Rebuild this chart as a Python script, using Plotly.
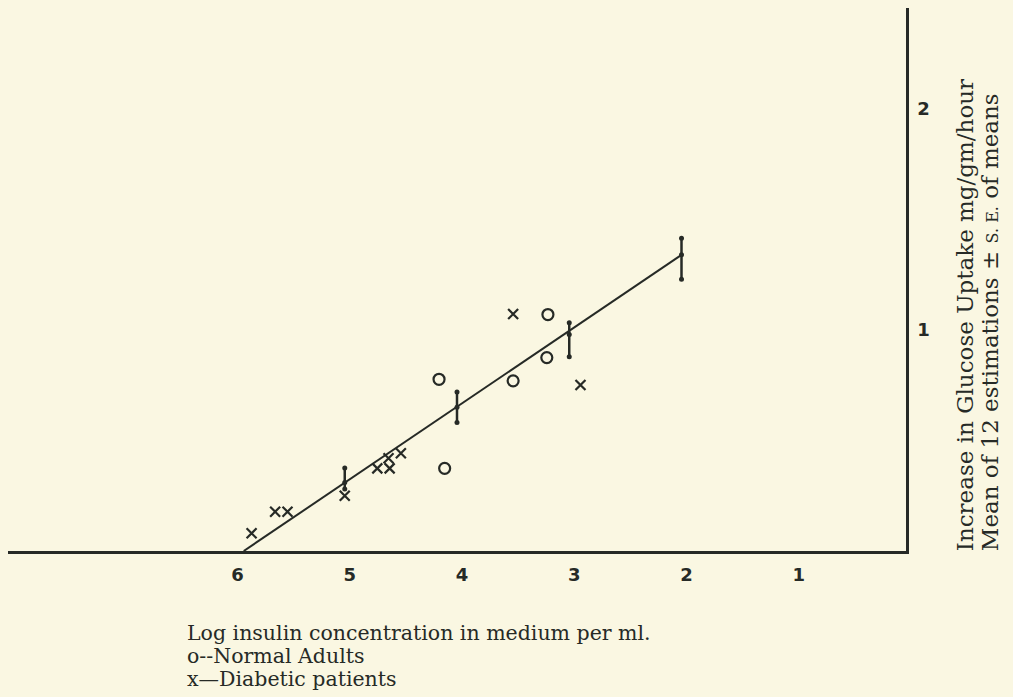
import plotly.graph_objects as go

# ---- data ----
normal_x = [3.19, 3.20, 3.50, 4.16, 4.11]
normal_y = [1.07, 0.875, 0.77, 0.777, 0.374]

diabetic_x = [3.50, 2.90, 5.83, 5.62, 5.51, 5.00, 4.71, 4.61, 4.60, 4.50]
diabetic_y = [1.072, 0.751, 0.08, 0.178, 0.178, 0.25, 0.374, 0.42, 0.374, 0.442]

bar_x = [5, 4, 3, 2]
bar_mean = [0.31, 0.65, 0.98, 1.34]
bar_hi = [0.375, 0.72, 1.033, 1.415]
bar_lo = [0.28, 0.582, 0.879, 1.23]

line_x = [5.9, 2.0]
line_y = [0.0, 1.34]

x_ticks = [6, 5, 4, 3, 2, 1]
y_ticks = [1, 2]

y_title = ["Increase in Glucose Uptake mg/gm/hour",
           "Mean of 12 estimations \u00b1 <span style='font-size:16px'>S. E.</span> of means"]
x_title = ["Log insulin concentration in medium per ml.",
           "o--Normal Adults",
           "x\u2014Diabetic patients"]

INK = "#262a26"
BG = "#faf7e2"

fig = go.Figure()

# regression line
fig.add_trace(go.Scatter(x=line_x, y=line_y, mode="lines",
                         line=dict(color=INK, width=2), showlegend=False))

# error bars (mean +/- s.e.)
fig.add_trace(go.Scatter(
    x=bar_x, y=bar_mean, mode="markers",
    marker=dict(color=INK, size=5),
    error_y=dict(type="data", symmetric=False,
                 array=[h - m for h, m in zip(bar_hi, bar_mean)],
                 arrayminus=[m - l for m, l in zip(bar_mean, bar_lo)],
                 color=INK, thickness=2.5, width=0),
    showlegend=False))
fig.add_trace(go.Scatter(x=bar_x + bar_x, y=bar_hi + bar_lo, mode="markers",
                         marker=dict(color=INK, size=5), showlegend=False))

# normal adults
fig.add_trace(go.Scatter(x=normal_x, y=normal_y, mode="markers",
                         marker=dict(symbol="circle-open", size=11, color=INK,
                                     line=dict(width=2.2, color=INK)),
                         showlegend=False))
# diabetic patients
fig.add_trace(go.Scatter(x=diabetic_x, y=diabetic_y, mode="markers",
                         marker=dict(symbol="x-thin-open", size=10, color=INK,
                                     line=dict(width=2.2, color=INK)),
                         showlegend=False))

fig.update_layout(
    width=1013, height=697,
    margin=dict(l=8, r=107, t=8, b=146),
    paper_bgcolor=BG, plot_bgcolor=BG,
    font=dict(family="DejaVu Serif", color=INK),
    xaxis=dict(range=[8.0, 0.0], showgrid=False, zeroline=False,
               showline=True, linecolor=INK, linewidth=3,
               tickvals=x_ticks, ticktext=[str(t) for t in x_ticks],
               ticks="", ticklabelstandoff=5, ticklabelshift=-5,
               tickfont=dict(family="DejaVu Sans", size=18, color=INK,
                             weight="bold")),
    yaxis=dict(range=[0, 2.457], side="right", showgrid=False, zeroline=False,
               showline=True, linecolor=INK, linewidth=2.5,
               tickvals=y_ticks, ticktext=[str(t) for t in y_ticks],
               ticks="", ticklabelstandoff=5,
               tickfont=dict(family="DejaVu Sans", size=18, color=INK,
                             weight="bold")),
)

# rotated y-axis title, two lines
for txt, px in zip(y_title, [965, 990]):
    fig.add_annotation(
        xref="paper", yref="paper", x=(px - 8) / 898, y=-0.004,
        xanchor="center", yanchor="bottom",
        text=txt, textangle=-90, showarrow=False,
        font=dict(family="DejaVu Serif", size=23, color=INK))

# caption under x axis
for txt, py in zip(x_title, [633, 656, 679]):
    fig.add_annotation(
        xref="paper", yref="paper", x=(185 - 8) / 898, y=(551 - py) / 543,
        xanchor="left", yanchor="middle",
        text=txt, showarrow=False,
        font=dict(family="DejaVu Serif", size=20.5, color=INK))

fig.write_html("out.html",
               config={"displayModeBar": False},
               post_script="document.body.style.margin='0';"
                           "document.body.style.background='" + BG + "';")
